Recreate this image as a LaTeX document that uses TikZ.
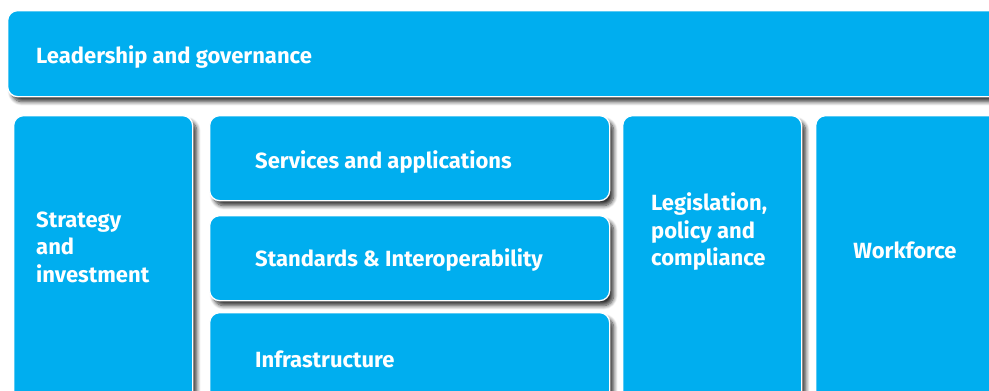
\documentclass[tikz,border=0pt]{standalone}
\usepackage{fontspec}
\setmainfont{Fira Sans}
\usetikzlibrary{shadows.blur}
\definecolor{boxblue}{HTML}{00AEEF}
\tikzset{
  blk/.style={rectangle, rounded corners=10pt, fill=boxblue, draw=white, line width=1.3pt,
    anchor=north west, inner sep=0pt,
    blur shadow={shadow xshift=4pt, shadow yshift=-5pt, shadow blur steps=8, shadow blur radius=4pt, shadow opacity=80}},
  lbl/.style={text=white, font=\fontsize{22}{27.5}\selectfont\bfseries, anchor=west, align=left, inner sep=0pt}
}
\begin{document}
\begin{tikzpicture}[x=1pt,y=-1pt]
\useasboundingbox (0,0) rectangle (989,391);
\clip (0,0) rectangle (989,391);
\node[blk, minimum width=1000pt, minimum height=86pt] (lead) at (7,10) {};
\node[blk, minimum width=179pt, minimum height=300pt] (strat) at (13,115) {};
\node[blk, minimum width=400pt, minimum height=85pt] (serv) at (209,115) {};
\node[blk, minimum width=400pt, minimum height=85pt] (stand) at (209,215) {};
\node[blk, minimum width=400pt, minimum height=100pt] (infra) at (209,312) {};
\node[blk, minimum width=179pt, minimum height=300pt] (legis) at (622,115) {};
\node[blk, minimum width=200pt, minimum height=300pt] (work) at (815,115) {};
\node[lbl] (tlead) at (36,57) {Leadership and governance};
\node[lbl] (tstrat) at (36,247) {Strategy\\and\\investment};
\node[lbl] (tserv) at (255,162) {Services and applications};
\node[lbl] (tstand) at (255,260) {Standards \& Interoperability};
\node[lbl] (tinfra) at (255,359) {Infrastructure};
\node[lbl] (tlegis) at (651,232) {Legislation,\\policy and\\compliance};
\node[lbl, anchor=center] (twork) at (905,250) {Workforce};
\end{tikzpicture}
\end{document}
